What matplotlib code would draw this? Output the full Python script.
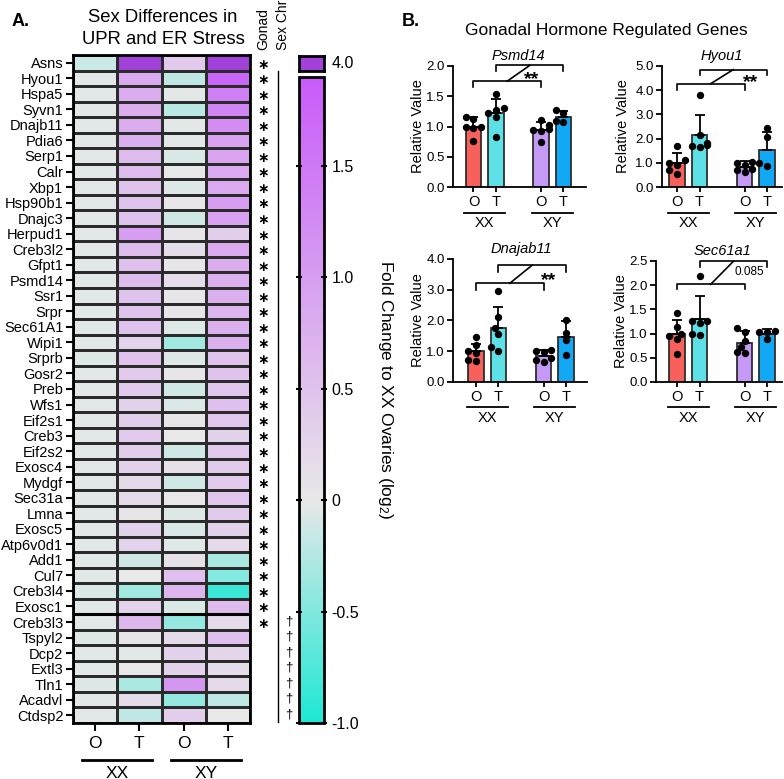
import numpy as np
import matplotlib
matplotlib.use("Agg")
import matplotlib.pyplot as plt
from matplotlib.colors import LinearSegmentedColormap, Normalize
from matplotlib.cm import ScalarMappable

plt.rcParams['font.family'] = ['Liberation Sans', 'DejaVu Sans']
plt.rcParams['mathtext.fontset'] = 'custom'
plt.rcParams['mathtext.rm'] = 'Liberation Sans'
plt.rcParams['mathtext.it'] = 'Liberation Sans:italic'

W, H = 784, 779

# ---- panel A: heatmap data (log2 fold change vs XX ovaries) ----
genes = ["Asns", "Hyou1", "Hspa5", "Syvn1", "Dnajb11", "Pdia6", "Serp1", "Calr",
         "Xbp1", "Hsp90b1", "Dnajc3", "Herpud1", "Creb3l2", "Gfpt1", "Psmd14",
         "Ssr1", "Srpr", "Sec61A1", "Wipi1", "Srprb", "Gosr2", "Preb", "Wfs1",
         "Eif2s1", "Creb3", "Eif2s2", "Exosc4", "Mydgf", "Sec31a", "Lmna",
         "Exosc5", "Atp6v0d1", "Add1", "Cul7", "Creb3l4", "Exosc1", "Creb3l3",
         "Tspyl2", "Dcp2", "Extl3", "Tln1", "Acadvl", "Ctdsp2"]
xx_o = [-0.15, -0.03, -0.03, -0.03, -0.03, -0.03, -0.03, -0.03, -0.03, -0.03,
        -0.03, -0.03, -0.03, -0.03, -0.03, -0.03, -0.03, -0.03, -0.03, -0.05,
        -0.03, -0.03, -0.03, -0.03, -0.03, -0.03, -0.03, -0.03, -0.03, -0.03,
        -0.03, -0.03, -0.03, -0.03, -0.06, -0.03, -0.03, -0.05, -0.03, -0.03,
        -0.05, -0.03, -0.03]
xx_t = [4.0, 0.85, 0.8, 0.8, 0.8, 0.75, 0.6, 0.6, 0.5, 0.5, 0.5, 1.0, 0.6, 0.55,
        0.6, 0.5, 0.5, 0.5, 0.3, 0.5, 0.4, 0.4, 0.3, 0.35, 0.4, 0.35, 0.3, 0.2,
        0.2, 0.05, 0.3, 0.3, -0.12, 0.0, -0.35, 0.3, 0.65, 0.05, -0.03, 0.0,
        -0.3, 0.15, -0.2]
xy_o = [0.4, -0.2, -0.03, -0.22, -0.03, -0.03, -0.08, 0.0, -0.05, 0.02, -0.12,
        0.05, 0.15, 0.05, 0.15, 0.05, 0.05, -0.05, -0.35, -0.05, 0.05, -0.12,
        -0.06, 0.05, 0.0, -0.12, 0.1, -0.12, 0.0, -0.05, -0.08, -0.05, 0.1, 0.55,
        0.7, -0.06, -0.4, 0.2, 0.3, 0.3, 1.1, -0.4, 0.35]
xy_t = [4.0, 1.75, 1.4, 1.35, 1.2, 0.95, 0.9, 0.85, 0.85, 1.0, 0.95, 0.35, 0.85,
        0.8, 0.75, 0.75, 0.7, 0.75, 0.75, 0.5, 0.5, 0.45, 0.55, 0.45, 0.3, 0.4,
        0.4, 0.4, 0.45, 0.4, 0.3, 0.2, -0.3, -0.5, -0.85, 0.6, 0.2, 0.55, 0.25,
        0.15, 0.2, -0.2, 0.0]
n_gonad = 37        # rows 0..36 carry a gonad effect (*)
first_sexchr = 36   # rows 36..42 carry a sex chromosome effect (dagger)
groups = ["O", "T", "O", "T"]
sexes = ["XX", "XY"]
cbar_ticks = [-1.0, -0.5, 0.0, 0.5, 1.0, 1.5]
cbar_labels = ["-1.0", "-0.5", "0", "0.5", "1.0", "1.5"]

# ---- panel B: relative expression, individual animals ----
psmd14_pts = [[1.15, 1.12, 1.0, 0.99, 0.98, 0.76], [1.53, 1.3, 1.28, 1.23, 1.15, 0.83],
              [1.1, 1.02, 0.96, 0.94, 0.93, 0.75], [1.28, 1.22, 1.09, 1.07]]
psmd14_mean = [1.0, 1.22, 0.95, 1.16]
psmd14_sd = [0.16, 0.23, 0.12, 0.1]
hyou1_pts = [[1.7, 1.1, 1.0, 0.9, 0.72, 0.52], [3.8, 2.15, 1.8, 1.75, 1.7, 1.65],
             [1.05, 1.0, 0.92, 0.75, 0.7, 0.6], [2.42, 2.05, 0.98, 0.88]]
hyou1_mean = [0.99, 2.13, 0.83, 1.54]
hyou1_sd = [0.4, 0.85, 0.24, 0.74]
dnajb11_pts = [[1.45, 1.2, 1.0, 0.95, 0.7, 0.68], [2.95, 2.1, 1.75, 1.55, 1.15, 1.0],
               [1.03, 1.0, 0.96, 0.78, 0.72, 0.65], [2.0, 1.6, 1.35, 0.88]]
dnajb11_mean = [1.0, 1.75, 0.86, 1.46]
dnajb11_sd = [0.25, 0.7, 0.19, 0.53]
sec61_pts = [[1.43, 1.13, 1.0, 0.96, 0.89, 0.58], [2.2, 1.25, 1.25, 1.22, 1.0, 0.98],
             [1.12, 1.04, 0.85, 0.73, 0.62, 0.6], [1.06, 1.04, 1.04, 0.88]]
sec61_mean = [1.0, 1.3, 0.81, 1.0]
sec61_sd = [0.28, 0.47, 0.24, 0.09]

bar_colors = ["#F8615B", "#5EE1E6", "#C59AF6", "#11A8F5"]

fig = plt.figure(figsize=(W / 100, H / 100), dpi=100)


def box(l, t, r, b):
    return fig.add_axes([l / W, 1 - b / H, (r - l) / W, (b - t) / H])


# ================= panel A =================
data = np.array([xx_o, xx_t, xy_o, xy_t]).T
cmap = LinearSegmentedColormap.from_list(
    "fc", [(0.0, "#1DE8D5"), (1 / 2.9, "#E8E8E8"), (1.0, "#C85BF9")])
cmap.set_over("#A141D9")
norm = Normalize(-1.0, 1.9)

HL, HT, HR, HB = 73, 55, 250, 723
ax = box(HL, HT, HR, HB)
ax.pcolormesh(data, cmap=cmap, norm=norm, edgecolors="#2b2b2b", linewidth=0.9)
nrow = len(genes)
ax.set_xlim(0, 4)
ax.set_ylim(nrow, 0)
ax.set_yticks(np.arange(nrow) + 0.5, genes, fontsize=10.5)
ax.set_xticks(np.arange(4) + 0.5, groups, fontsize=12.5)
ax.tick_params(axis="y", length=5, width=1.5, pad=2)
ax.tick_params(axis="x", length=6, width=1.5, pad=3)
for s in ax.spines.values():
    s.set_linewidth(2)
ax.axhline(first_sexchr, color="k", lw=2.2)

colw = (HR - HL) / 4
rowh = (HB - HT) / nrow
hx = lambda px: (px - HL) / colw
hy = lambda py: (py - HT) / rowh

for i in range(n_gonad):
    ax.text(hx(263), i + 0.62, "\u2217", family="DejaVu Sans", fontweight="bold",
            fontsize=10, ha="center", va="center")
for i in range(first_sexchr, nrow):
    ax.text(hx(289), i + 0.45, "\u2020", fontsize=9.5, ha="center", va="center")
ax.plot([hx(278)] * 2, [hy(71), hy(722)], color="k", lw=1, clip_on=False)
ax.text(hx(263), hy(50), "Gonad", rotation=90, ha="center", va="bottom", fontsize=10)
ax.text(hx(283), hy(50), "Sex Chr", rotation=90, ha="center", va="bottom", fontsize=10)

for k, lab in enumerate(sexes):
    c = 1.0 + 2 * k
    ax.plot([c - 0.79, c + 0.79], [hy(760)] * 2, color="k", lw=2, clip_on=False)
    ax.text(c, hy(766), lab, ha="center", va="top", fontsize=12.5)

fig.text(163 / W, 1 - 17 / H, "Sex Differences in", ha="center", va="center", fontsize=13.3)
fig.text(163 / W, 1 - 40 / H, "UPR and ER Stress", ha="center", va="center", fontsize=13.3)
fig.text(12 / W, 1 - 22 / H, "A.", ha="left", va="center", fontsize=13, fontweight="bold")

# colour bar + separate over-range box
cax = box(299, 77, 324, 723)
cb = fig.colorbar(ScalarMappable(norm=norm, cmap=cmap), cax=cax)
cb.set_ticks(cbar_ticks, labels=cbar_labels)
cb.outline.set_linewidth(2)
cax.yaxis.set_ticks_position("both")
cax.tick_params(labelsize=11.5, length=5, width=1.5, direction="inout", pad=3)
fig.text(385 / W, 1 - 390 / H, "Fold Change to XX Ovaries (log$_2$)", rotation=270,
         ha="center", va="center", fontsize=12.5)

oax = box(299, 56, 324, 71)
oax.set_facecolor(cmap.get_over())
oax.set_xticks([])
oax.set_yticks([])
for s in oax.spines.values():
    s.set_linewidth(2)
oax.text(1.32, 0.5, "4.0", transform=oax.transAxes, ha="left", va="center", fontsize=11.5)

# ================= panel B =================
fig.text(402 / W, 1 - 22 / H, "B.", ha="left", va="center", fontsize=13, fontweight="bold")
fig.text(606 / W, 1 - 31 / H, "Gonadal Hormone Regulated Genes", ha="center",
         va="center", fontsize=12.5)

UNIT = 22.5
pos = np.array([0, 1, 3, 4])


def swarm(vals, ppu):
    # simple deterministic beeswarm: keep dots from overlapping
    order = np.argsort(vals)
    placed, offs = [], np.zeros(len(vals))
    for i in order:
        for o in (0, -0.17, 0.17, -0.34, 0.34):
            ok = all(np.hypot((o - po) * UNIT, (vals[i] - pv) * ppu) >= 6.5
                     for po, pv in placed)
            if ok:
                break
        offs[i] = o
        placed.append((o, vals[i]))
    return offs


def panel(l, t, b, x0, xr, ymax, ystep, gene, pts, mean, sd, br, sig, sigxy,
          sigsize, ylab_off):
    xl = (l - x0) / UNIT
    r = x0 + xr * UNIT
    a = box(l, t, r, b)
    hpx = b - t
    ppu = hpx / ymax
    a.bar(pos, mean, width=0.67, color=bar_colors, edgecolor="#2e2e2e", lw=1.3, zorder=2)
    a.errorbar(pos, mean, yerr=[np.zeros(4), sd], fmt="none", ecolor="k",
               elinewidth=1.3, capsize=3.5, capthick=1.3, zorder=3)
    for p, v in zip(pos, pts):
        v = np.array(v)
        a.scatter(p + swarm(v, ppu), v, s=28, color="k", zorder=4, linewidths=0)
    a.set_xlim(xl, xr)
    a.set_ylim(0, ymax)
    a.spines[["top", "right"]].set_visible(False)
    for s in ("left", "bottom"):
        a.spines[s].set_linewidth(1.3)
    a.set_xticks(pos, groups, fontsize=10.5)
    yt = np.arange(0, ymax + 1e-9, ystep)
    a.set_yticks(yt, [f"{v:.1f}" for v in yt], fontsize=9.5)
    a.tick_params(axis="x", length=3.5, width=1.3, pad=2)
    a.tick_params(axis="y", length=4, width=1.3, pad=2)
    a.set_ylabel("Relative Value", fontsize=10.5)
    a.yaxis.set_label_coords(-ylab_off / (r - l), 0.5)
    a.text(2.0, ymax + 10 / ppu, gene, ha="center", va="center", fontsize=10.5,
           style="italic")
    tr = a.get_xaxis_transform()
    for k, lab in enumerate(sexes):
        c = 0.5 + 3 * k
        a.plot([c - 0.92, c + 0.92], [-25.5 / hpx] * 2, color="k", lw=1.3,
               transform=tr, clip_on=False)
        a.text(c, -36 / hpx, lab, ha="center", va="center", fontsize=10.5, transform=tr)
    (yl, tl), (yu, tu) = br
    a.plot([0, 0, 3, 3], [yl - tl, yl, yl, yl - tl], color="k", lw=1.2, clip_on=False)
    a.plot([1, 1, 4, 4], [yu - tu, yu, yu, yu - tu], color="k", lw=1.2, clip_on=False)
    a.plot([1.5, 2.5], [yl, yu], color="k", lw=1.2, clip_on=False)
    a.text(sigxy[0], sigxy[1], sig, ha="center", va="center", fontsize=sigsize,
           fontweight="bold" if sig.startswith("*") else "normal")
    return a


panel(453, 66, 187, 473.5, 5.0, 2.0, 0.5, "Psmd14", psmd14_pts, psmd14_mean,
      psmd14_sd, ((1.75, 0.1), (2.01, 0.09)), "**", (2.6, 1.78), 14, 28)
panel(662, 66, 187, 677.0, 4.65, 5.0, 1.0, "Hyou1", hyou1_pts, hyou1_mean,
      hyou1_sd, ((4.27, 0.25), (4.85, 0.24)), "**", (3.27, 4.32), 14, 32)
panel(453, 259, 382, 476.0, 4.95, 4.0, 1.0, "Dnajab11", dnajb11_pts, dnajb11_mean,
      dnajb11_sd, ((3.21, 0.21), (3.8, 0.21)), "**", (3.24, 3.3), 14, 28)
panel(656, 261, 382, 677.0, 4.65, 2.5, 0.5, "Sec61a1", sec61_pts, sec61_mean,
      sec61_sd, ((2.02, 0.09), (2.49, 0.11)), "0.085", (3.2, 2.27), 8.5, 28)

fig.savefig("out.png", dpi=100)
